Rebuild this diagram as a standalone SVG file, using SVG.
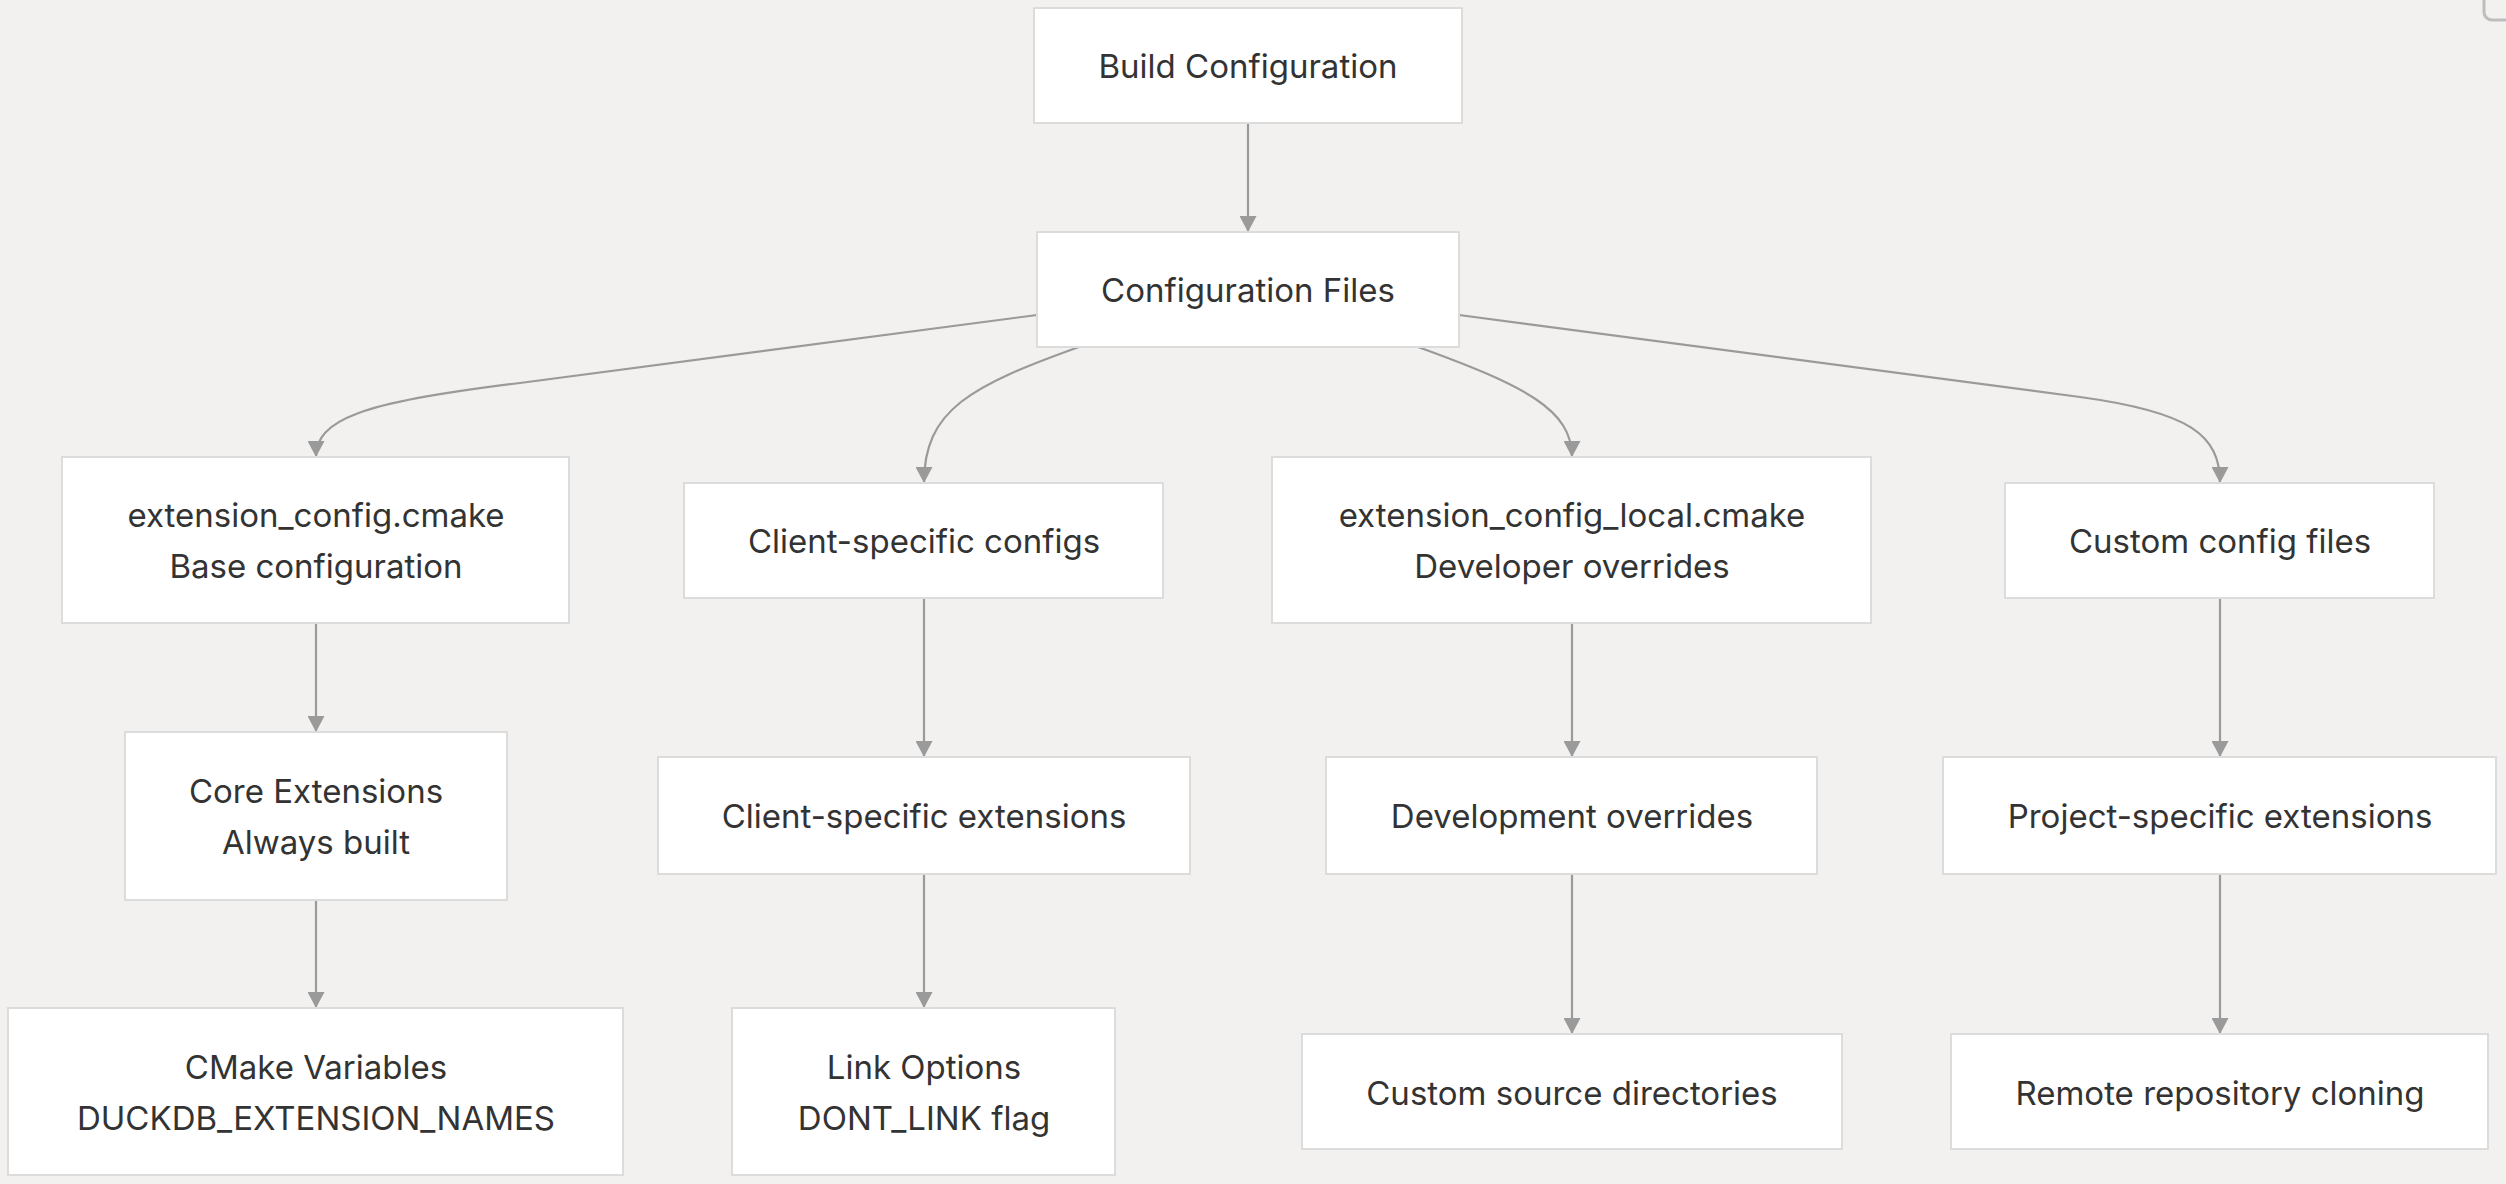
<svg xmlns="http://www.w3.org/2000/svg" width="2506" height="1184" viewBox="0 0 2506 1184">
<style>
.bg{fill:#f2f1f0}
.node rect{fill:#ffffff;stroke:#dcdcdc;stroke-width:2}
.node text{font-family:Inter,"Noto Sans","Liberation Sans",sans-serif;font-size:33px;fill:#333333;text-anchor:middle;dominant-baseline:central}
.edge{fill:none;stroke:#9a9a9a;stroke-width:2.2}
</style>
<defs>
<marker id="arr" viewBox="0 0 16 17" refX="16" refY="8.5" markerWidth="16" markerHeight="17" markerUnits="userSpaceOnUse" orient="auto">
<path d="M0,0 L16,8.5 L0,17 Z" fill="#9a9a9a"/>
</marker>
</defs>
<rect class="bg" x="0" y="0" width="2506" height="1184"/>
<rect x="2484" y="-12" width="40" height="32" rx="8" fill="none" stroke="#bdbdbd" stroke-width="3"/>
<g id="connectors">
<path class="edge" marker-end="url(#arr)" d="M1248,123 L1248,232"/>
<path class="edge" marker-end="url(#arr)" d="M1037,315 L520,383 C360,402 316,420 316,457"/>
<path class="edge" marker-end="url(#arr)" d="M1079,347 C970,386 924,410 924,483"/>
<path class="edge" marker-end="url(#arr)" d="M1418,347 C1526,386 1572,410 1572,457"/>
<path class="edge" marker-end="url(#arr)" d="M1459,315 L2080,397 C2190,412 2220,435 2220,483"/>
<path class="edge" marker-end="url(#arr)" d="M316,623 L316,732"/>
<path class="edge" marker-end="url(#arr)" d="M316,900 L316,1008"/>
<path class="edge" marker-end="url(#arr)" d="M924,598 L924,757"/>
<path class="edge" marker-end="url(#arr)" d="M924,874 L924,1008"/>
<path class="edge" marker-end="url(#arr)" d="M1572,623 L1572,757"/>
<path class="edge" marker-end="url(#arr)" d="M1572,874 L1572,1034"/>
<path class="edge" marker-end="url(#arr)" d="M2220,598 L2220,757"/>
<path class="edge" marker-end="url(#arr)" d="M2220,874 L2220,1034"/>
</g>
<g id="build" class="node"><rect x="1034" y="8" width="428" height="115"/><text x="1248" y="66">Build Configuration</text></g>
<g id="configfiles" class="node"><rect x="1037" y="232" width="422" height="115"/><text x="1248" y="290">Configuration Files</text></g>
<g id="extconfig" class="node"><rect x="62" y="457" width="507" height="166"/><text x="316" y="515">extension_config.cmake</text><text x="316" y="566">Base configuration</text></g>
<g id="clientconfigs" class="node"><rect x="684" y="483" width="479" height="115"/><text x="924" y="541">Client-specific configs</text></g>
<g id="extlocal" class="node"><rect x="1272" y="457" width="599" height="166"/><text x="1572" y="515">extension_config_local.cmake</text><text x="1572" y="566">Developer overrides</text></g>
<g id="customconfig" class="node"><rect x="2005" y="483" width="429" height="115"/><text x="2220" y="541">Custom config files</text></g>
<g id="core" class="node"><rect x="125" y="732" width="382" height="168"/><text x="316" y="791">Core Extensions</text><text x="316" y="842">Always built</text></g>
<g id="clientext" class="node"><rect x="658" y="757" width="532" height="117"/><text x="924" y="816">Client-specific extensions</text></g>
<g id="devoverrides" class="node"><rect x="1326" y="757" width="491" height="117"/><text x="1572" y="816">Development overrides</text></g>
<g id="projectext" class="node"><rect x="1943" y="757" width="553" height="117"/><text x="2220" y="816">Project-specific extensions</text></g>
<g id="cmakevars" class="node"><rect x="8" y="1008" width="615" height="167"/><text x="316" y="1067">CMake Variables</text><text x="316" y="1118">DUCKDB_EXTENSION_NAMES</text></g>
<g id="linkopts" class="node"><rect x="732" y="1008" width="383" height="167"/><text x="924" y="1067">Link Options</text><text x="924" y="1118">DONT_LINK flag</text></g>
<g id="customsrc" class="node"><rect x="1302" y="1034" width="540" height="115"/><text x="1572" y="1093">Custom source directories</text></g>
<g id="remote" class="node"><rect x="1951" y="1034" width="537" height="115"/><text x="2220" y="1093">Remote repository cloning</text></g>
</svg>
